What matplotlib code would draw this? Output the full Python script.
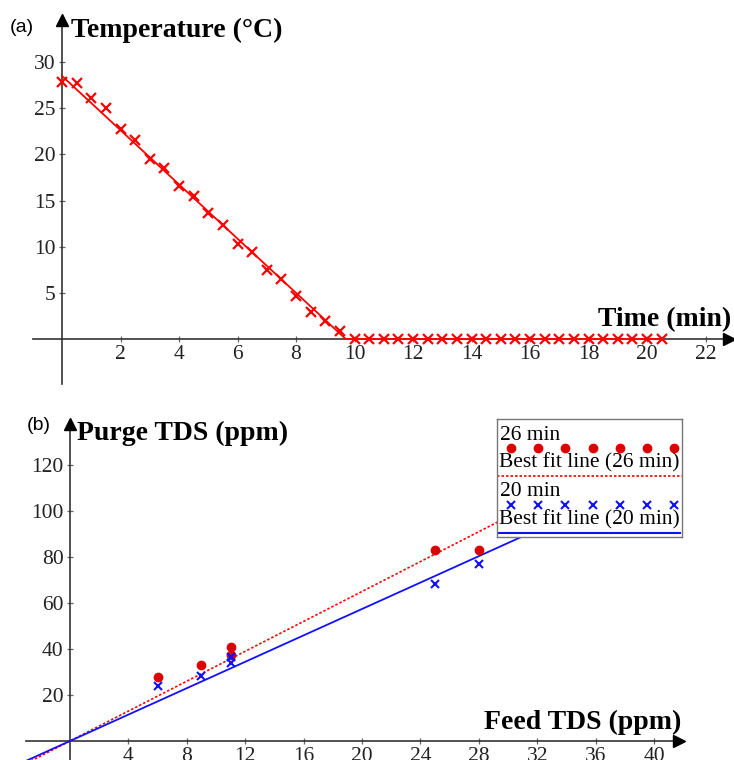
import numpy as np
import matplotlib
matplotlib.use("Agg")
import matplotlib.pyplot as plt

# ---------------- data ----------------
# (a) temperature vs time
time_min = [0, 0.5, 1, 1.5, 2, 2.5, 3, 3.5, 4, 4.5, 5, 5.5, 6, 6.5, 7, 7.5, 8, 8.5, 9, 9.5,
            10, 10.5, 11, 11.5, 12, 12.5, 13, 13.5, 14, 14.5, 15, 15.5, 16, 16.5, 17, 17.5,
            18, 18.5, 19, 19.5, 20, 20.5]
temperature = [27.8, 27.7, 26.1, 25.0, 22.7, 21.6, 19.5, 18.5, 16.6, 15.5, 13.6, 12.4, 10.3, 9.4,
               7.5, 6.5, 4.7, 2.9, 1.9, 0.9,
               0, 0, 0, 0, 0, 0, 0, 0, 0, 0, 0, 0, 0, 0, 0, 0, 0, 0, 0, 0, 0, 0]
fit_time = [0, 9.7, 20.5]
fit_temp = [28.5, 0, 0]

# (b) purge TDS vs feed TDS
feed_26 = [6, 9, 11, 11, 25, 28]
purge_26 = [28, 33, 41, 37.4, 83, 83]
feed_20 = [6, 9, 11, 11, 25, 28]
purge_20 = [24, 28.3, 36.5, 33.8, 68.1, 77.1]
slope_26 = 3.25
slope_20 = 2.87

a_xticks = [2, 4, 6, 8, 10, 12, 14, 16, 18, 20, 22]
a_yticks = [5, 10, 15, 20, 25, 30]
b_xticks = [4, 8, 12, 16, 20, 24, 28, 32, 36, 40]
b_yticks = [20, 40, 60, 80, 100, 120]

# ---------------- style ----------------
W, H = 734, 760
SERIF = ["Liberation Serif", "DejaVu Serif"]
SANS = ["Liberation Sans", "DejaVu Sans"]
RED = "#ff0000"
BLUE = "#1010ff"
AXC = "#333333"
TICK_FS = 15.5
TITLE_FS = 20

fig = plt.figure(figsize=(W / 100, H / 100), dpi=100)


def px_axes(left, top, right, bottom):
    return fig.add_axes([left / W, 1 - bottom / H, (right - left) / W, (bottom - top) / H])


def style_axes(ax, xticks, yticks):
    for s in ("top", "right"):
        ax.spines[s].set_visible(False)
    for s in ("left", "bottom"):
        ax.spines[s].set_position(("data", 0))
        ax.spines[s].set_color(AXC)
        ax.spines[s].set_linewidth(1.2)
    ax.set_xticks(xticks)
    ax.set_yticks(yticks)
    ax.tick_params(direction="inout", length=5, width=0.9, color="#666666",
                   labelsize=TICK_FS, labelcolor="#222222", pad=2)
    for lab in ax.get_xticklabels() + ax.get_yticklabels():
        lab.set_family(SERIF)
    ax.patch.set_alpha(0)
    # arrow heads
    ax.plot([1], [0], marker=">", ms=9, color="black", transform=ax.get_yaxis_transform(),
            clip_on=False, zorder=5)
    ax.plot([0], [1], marker="^", ms=9, color="black", transform=ax.get_xaxis_transform(),
            clip_on=False, zorder=5)


# ---------------- panel (a) ----------------
axa = px_axes(33, 20, 729, 384)
x0a, sxa = 62, 29.25
y0a, sya = 339, 9.23
axa.set_xlim((33 - x0a) / sxa, (729 - x0a) / sxa)
axa.set_ylim((y0a - 384) / sya, (y0a - 20) / sya)
style_axes(axa, a_xticks, a_yticks)
axa.plot(fit_time, fit_temp, color=RED, lw=1.3, zorder=3)
axa.plot(time_min, temperature, ls="none", marker="x", ms=7, mew=1.6, color=RED, zorder=4)

fig.text(71 / W, 1 - 30 / H, "Temperature (°C)", family=SERIF, weight="bold",
         fontsize=TITLE_FS, ha="left", va="center")
fig.text(731 / W, 1 - 320 / H, "Time (min)", family=SERIF, weight="bold",
         fontsize=TITLE_FS, ha="right", va="center")
fig.text(10 / W, 1 - 27 / H, "(a)", family=SANS, fontsize=14, ha="left", va="center")

# ---------------- panel (b) ----------------
axb = px_axes(26, 424, 679, 760)
x0b, sxb = 70, 14.6
y0b, syb = 741, 2.3
xmin_b, xmax_b = (26 - x0b) / sxb, (679 - x0b) / sxb
axb.set_xlim(xmin_b, xmax_b)
axb.set_ylim((y0b - 760) / syb, (y0b - 424) / syb)
style_axes(axb, b_xticks, b_yticks)
xx = np.array([xmin_b - 1, xmax_b + 1])
axb.plot(xx, slope_26 * xx, color=RED, lw=1.2, ls=(0, (1.5, 1.2)), zorder=3)
axb.plot(xx, slope_20 * xx, color=BLUE, lw=1.3, zorder=3)
axb.plot(feed_26, purge_26, ls="none", marker="o", ms=6, color="#dd0000", zorder=4)
axb.plot(feed_20, purge_20, ls="none", marker="x", ms=6, mew=1.5, color=BLUE, zorder=5)

fig.text(77 / W, 1 - 433 / H, "Purge TDS (ppm)", family=SERIF, weight="bold",
         fontsize=TITLE_FS, ha="left", va="center")
fig.text(681 / W, 1 - 722 / H, "Feed TDS (ppm)", family=SERIF, weight="bold",
         fontsize=TITLE_FS, ha="right", va="center")
fig.text(27 / W, 1 - 426 / H, "(b)", family=SANS, fontsize=14, ha="left", va="center")

# ---------------- legend (b) ----------------
lg = px_axes(497, 419, 682, 537)
lg.set_xlim(0, 185)
lg.set_ylim(118, 0)
lg.set_xticks([])
lg.set_yticks([])
for s in lg.spines.values():
    s.set_color("#777777")
    s.set_linewidth(1.0)
lg.set_facecolor("white")
lg.set_zorder(10)
LFS = 15.5
lg.text(3, 16, "26 min", family=SERIF, fontsize=LFS, va="center", ha="left")
lg.plot(np.linspace(13.7, 177.3, 7), np.full(7, 29), ls="none", marker="o", ms=6, color="#dd0000")
lg.text(2, 44, "Best fit line (26 min)", family=SERIF, fontsize=LFS, va="center", ha="left")
lg.plot([0, 185], [57, 57], color=RED, lw=1.2, ls=(0, (1.5, 1.2)))
lg.text(3, 73, "20 min", family=SERIF, fontsize=LFS, va="center", ha="left")
lg.plot(np.linspace(13.7, 177.3, 7), np.full(7, 85.5), ls="none", marker="x", ms=6, mew=1.5,
        color=BLUE)
lg.text(2, 101, "Best fit line (20 min)", family=SERIF, fontsize=LFS, va="center", ha="left")
lg.plot([2, 183], [113.5, 113.5], color=BLUE, lw=1.5)

fig.savefig("out.png", dpi=100)
